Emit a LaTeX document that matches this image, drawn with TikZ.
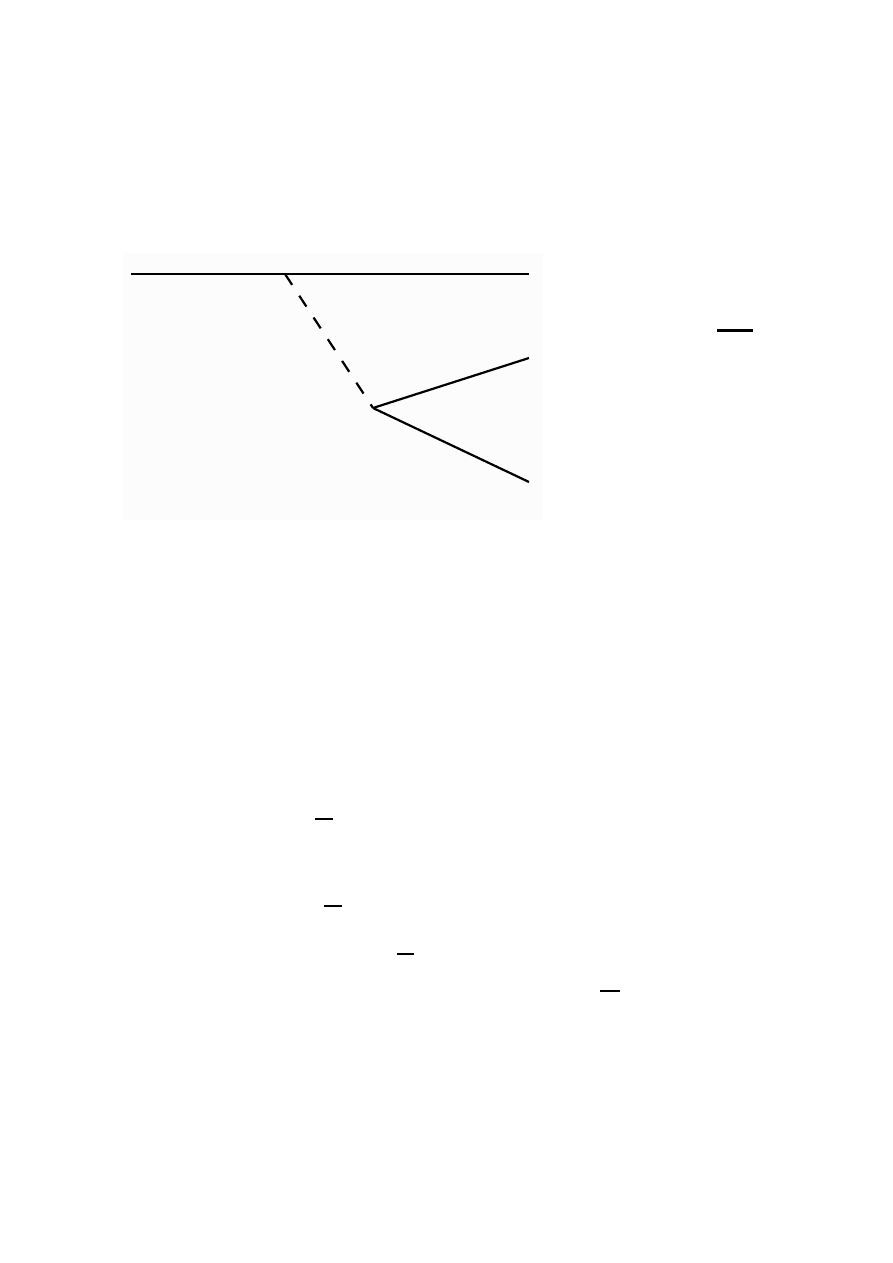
\documentclass[tikz,border=0pt]{standalone}
\usepackage{tikz}
\usetikzlibrary{calc}

\begin{document}
\begin{tikzpicture}[x=1pt,y=-1pt,
  ray/.style={black, line width=2.2pt},
  bar/.style={black, line width=2.2pt}]
\useasboundingbox (0,0) rectangle (893,1263);
\fill [black!1] (123,253) rectangle (543,520);

\coordinate (surfL) at (131,274);
\coordinate (surfR) at (529,274);
\coordinate (hit) at (285,274);
\coordinate (kink) at (373,408);
\coordinate (outA) at (529,358);
\coordinate (outB) at (529,482);

\draw [ray] (surfL) -- (surfR);
\draw [ray, dash pattern=on 13pt off 13pt] (hit) -- (kink);
\draw [ray] (kink) -- (outA);
\draw [ray] (kink) -- (outB);

\draw [black, line width=3pt] (717,330) -- (753,330);
\foreach \xa/\xb/\y in {315/333/819, 324/342/906, 397/414/954, 600/620/991}
  \draw [bar] (\xa,\y) -- (\xb,\y);

\end{tikzpicture}
\end{document}
